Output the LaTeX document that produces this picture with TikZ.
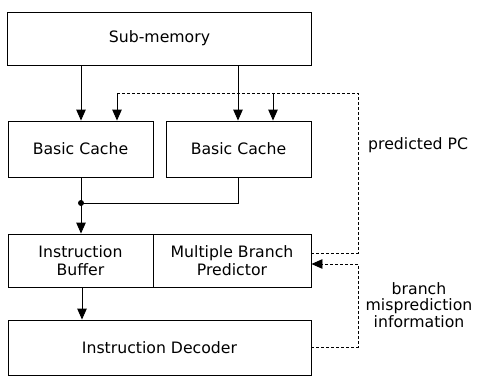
\documentclass[tikz,border=0pt]{standalone}
\usepackage{fontspec}
\setmainfont{DejaVu Sans}
\usetikzlibrary{arrows.meta}
\begin{document}
\begin{tikzpicture}[x=1pt,y=-1pt,
  tip/.style={-{Triangle[length=11pt,width=9.5pt]}},
  blk/.style={draw, line width=0.9pt, inner sep=0pt, align=center,
    font=\fontsize{15.7pt}{18pt}\selectfont},
  flow/.style={line width=0.9pt, tip},
  wire/.style={line width=0.9pt},
  ctrl/.style={line width=0.9pt, dash pattern=on 3pt off 2pt},
  lbl/.style={inner sep=0pt, align=center,
    font=\fontsize{15.7pt}{16.5pt}\selectfont}]
  % page frame
  \useasboundingbox[fill=white] (0,0) rectangle (477,383);

  % blocks
  \node[blk, minimum width=304pt, minimum height=53pt] (sub) at (159.5,38.5) {Sub-memory};
  \node[blk, minimum width=145pt, minimum height=56pt] (bcA) at (80.5,149) {Basic Cache};
  \node[blk, minimum width=145pt, minimum height=56pt] (bcB) at (238.5,149) {Basic Cache};
  \node[blk, minimum width=145pt, minimum height=53pt] (ib) at (80.5,260.5) {Instruction\\Buffer};
  \node[blk, minimum width=158pt, minimum height=53pt] (mbp) at (232,260.5) {Multiple Branch\\Predictor};
  \node[blk, minimum width=303pt, minimum height=55pt] (dec) at (159.5,347.5) {Instruction Decoder};

  % side labels
  \node[lbl, anchor=west] (pc) at (368,145) {predicted PC};
  \node[lbl] (mis) at (419,305) {branch\\misprediction\\information};

  % routing points
  \coordinate (xA) at (81,0);
  \coordinate (xB) at (238,0);
  \coordinate (xP) at (117,0);
  \coordinate (xQ) at (273,0);
  \coordinate (xD) at (82,0);
  \coordinate (pcTop) at (358,93);
  \coordinate (join) at (81,203);
  \coordinate (rA) at (358,253);
  \coordinate (rB) at (358,264);
  \coordinate (rC) at (358,347);

  % memory to caches
  \draw[flow] (sub.south -| xA) -- (bcA.north -| xA);
  \draw[flow] (sub.south -| xB) -- (bcB.north -| xB);

  % predicted PC feedback
  \draw[ctrl] (mbp.east |- rA) -- (rA) -- (pcTop) -- (pcTop -| xP);
  \draw[flow] (pcTop -| xP) -- (bcA.north -| xP);
  \draw[flow] (pcTop -| xQ) -- (bcB.north -| xQ);

  % caches merge into the buffer
  \draw[wire] (bcA.south -| xA) -- (join);
  \draw[wire] (bcB.south -| xB) -- (join -| xB) -- (join);
  \fill (join) circle (3pt);
  \draw[flow] (join) -- (ib.north -| xA);

  % buffer to decoder
  \draw[flow] (ib.south -| xD) -- (dec.north -| xD);

  % misprediction information back to the predictor
  \draw[ctrl] (dec.east |- rC) -- (rC) -- (rB);
  \draw[ctrl, tip] (rB) -- (mbp.east |- rB);
\end{tikzpicture}
\end{document}
